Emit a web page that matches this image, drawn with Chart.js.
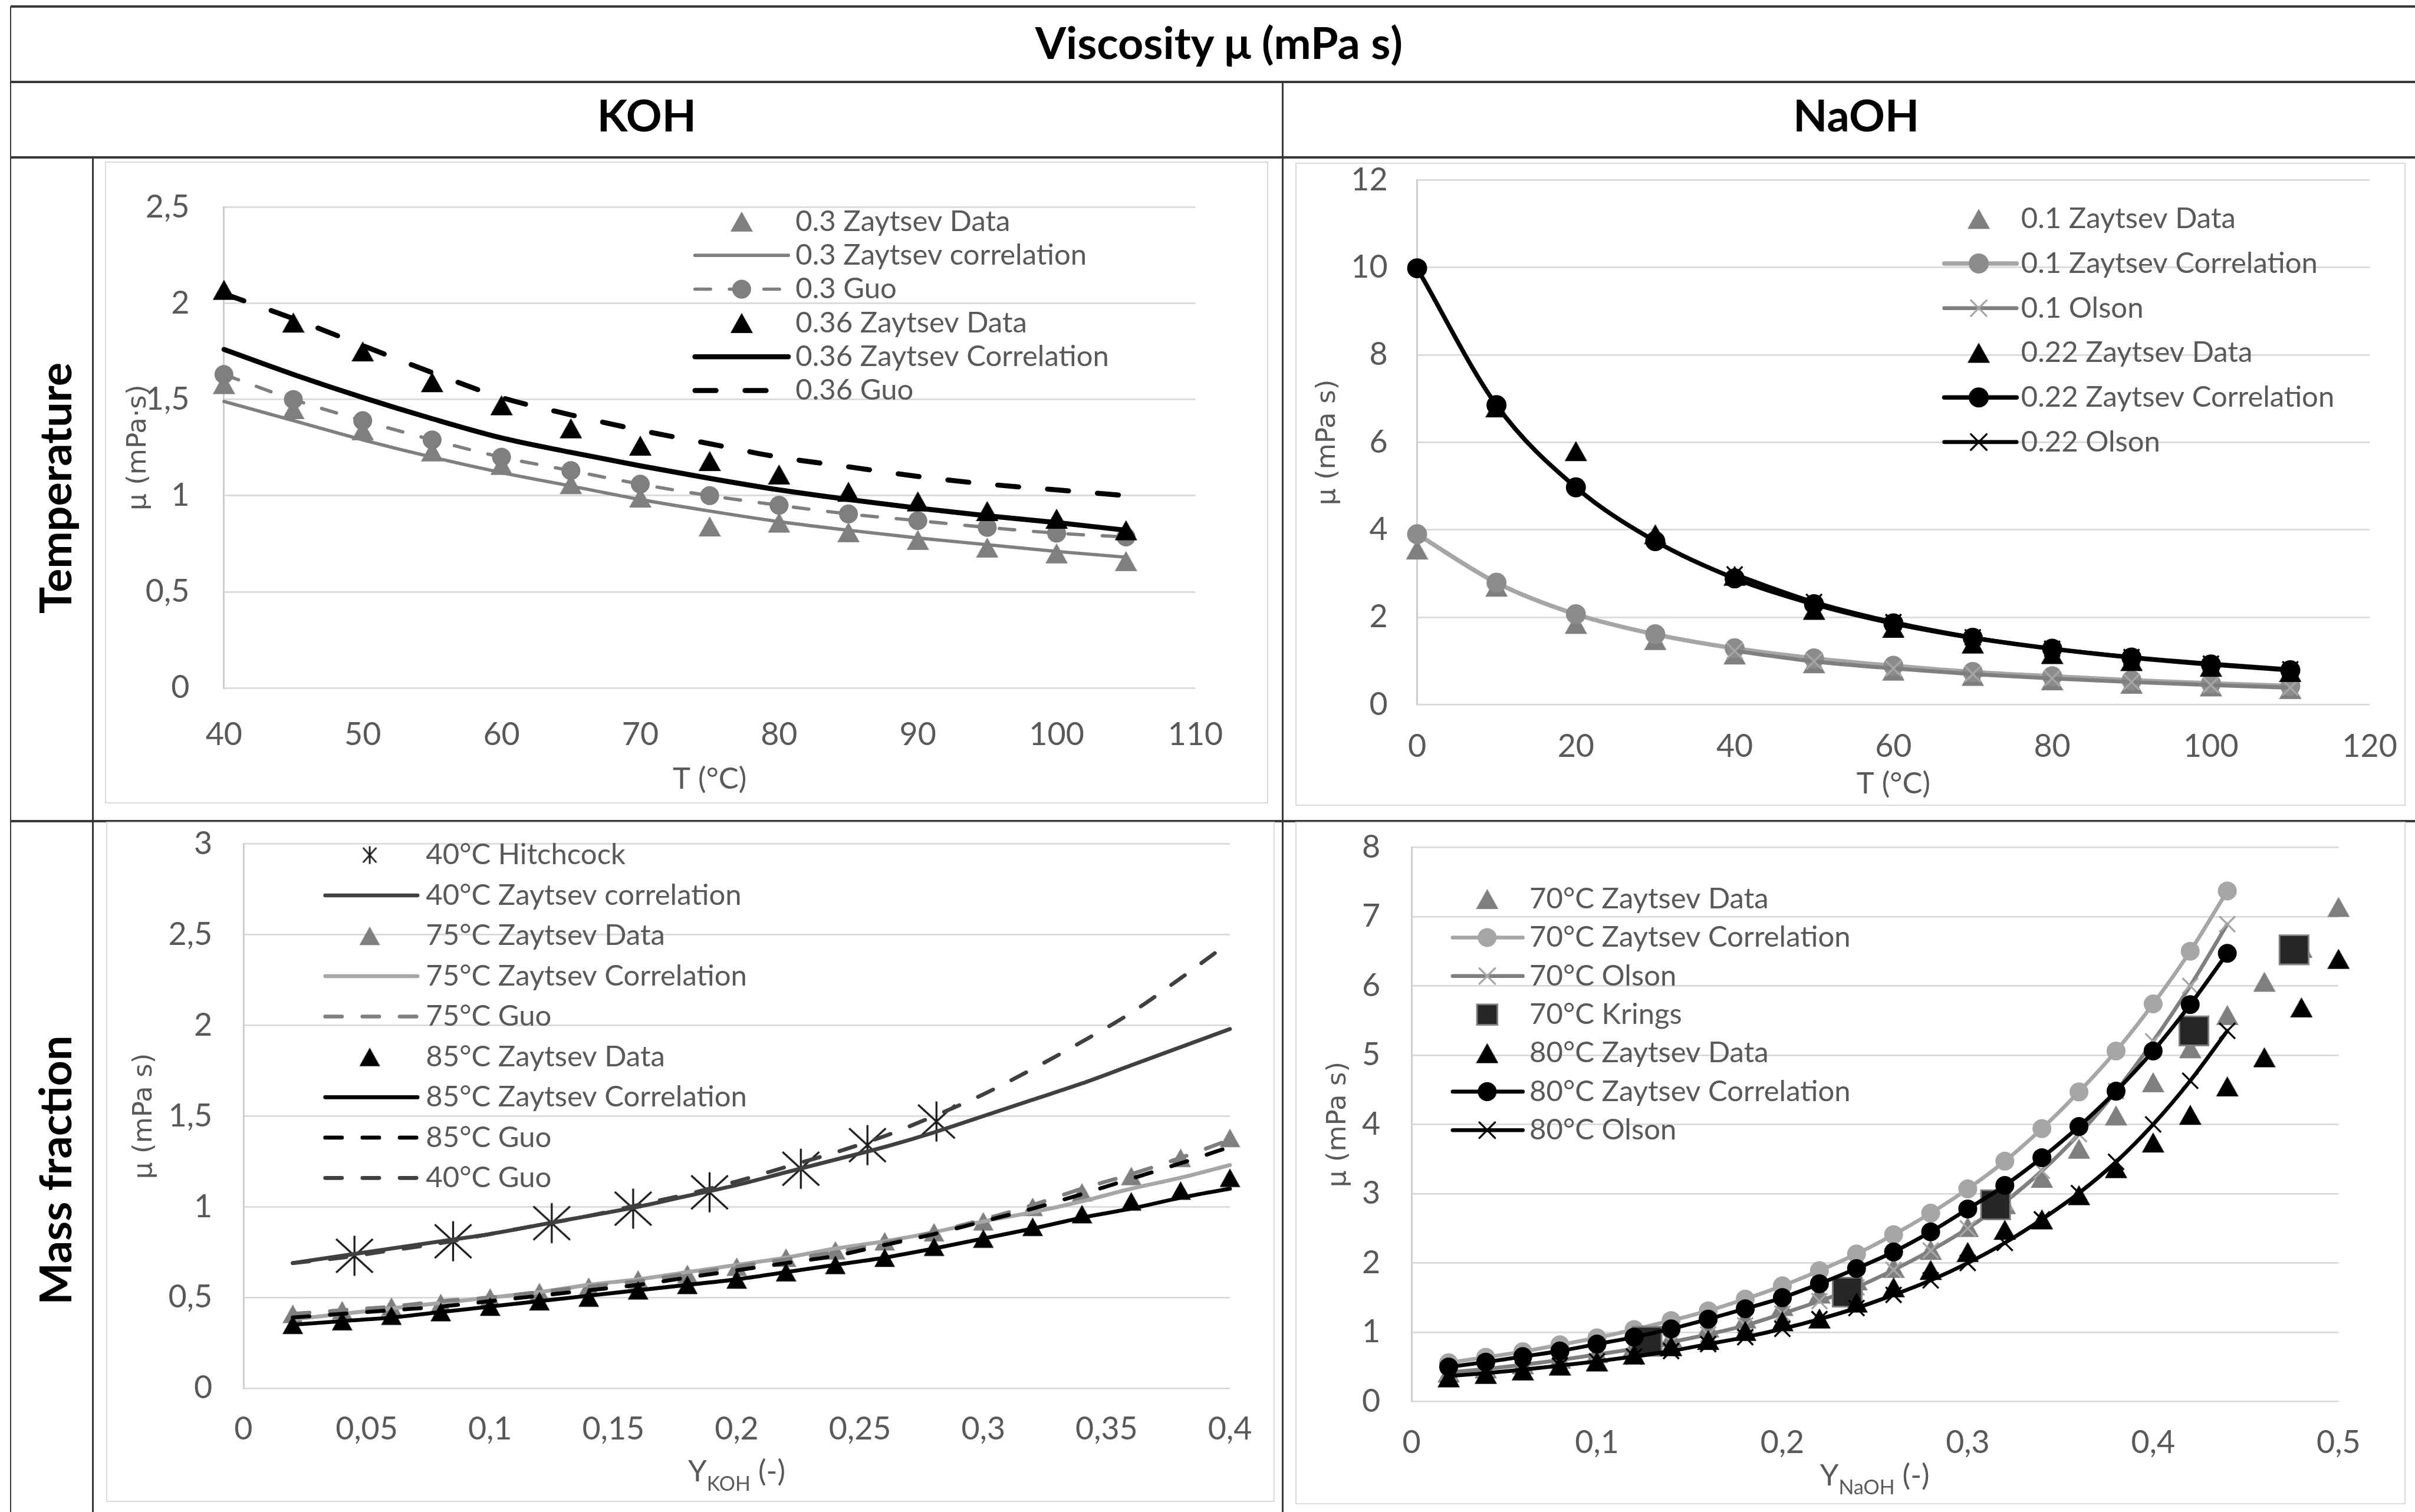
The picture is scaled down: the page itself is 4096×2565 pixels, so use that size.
<!DOCTYPE html>
<html>
<head>
<meta charset="utf-8">
<title>Viscosity μ (mPa s)</title>
<script src="https://cdn.jsdelivr.net/npm/chart.js@4.4.1/dist/chart.umd.min.js"></script>
<style>
  html, body { margin: 0; padding: 0; background: #fff; overflow: hidden; }
  #page { position: relative; width: 4096px; height: 2565px; background: #fff; overflow: hidden; }
  .rule { position: absolute; background: #383838; }
  .head { position: absolute; font-family: Lato, sans-serif; font-weight: 700; color: #000; line-height: 1; white-space: nowrap; }
  .frame { position: absolute; box-sizing: border-box; border-style: solid; border-color: #d9d9d9; }
  canvas { position: absolute; }
</style>
</head>
<body>
<div id="page"></div>
<script>
// ---------- KOH vs temperature (°C) ----------
const tKOH = [40, 45, 50, 55, 60, 65, 70, 75, 80, 85, 90, 95, 100, 105];
const koh30Data = [1.58, 1.45, 1.34, 1.23, 1.16, 1.06, 0.99, 0.84, 0.86, 0.81, 0.77, 0.73, 0.70, 0.66];
const koh30Corr = [1.49, 1.39, 1.29, 1.20, 1.12, 1.05, 0.98, 0.92, 0.865, 0.82, 0.78, 0.745, 0.71, 0.68];
const koh30Guo = [1.63, 1.50, 1.39, 1.29, 1.20, 1.13, 1.06, 1.00, 0.95, 0.905, 0.87, 0.835, 0.805, 0.785];
const koh36Data = [2.07, 1.90, 1.75, 1.59, 1.47, 1.35, 1.26, 1.18, 1.11, 1.02, 0.97, 0.92, 0.88, 0.82];
const koh36Corr = [1.76, 1.63, 1.51, 1.40, 1.30, 1.225, 1.155, 1.09, 1.03, 0.98, 0.935, 0.895, 0.86, 0.82];
const koh36Guo = [2.05, 1.92, 1.78, 1.64, 1.51, 1.42, 1.34, 1.27, 1.20, 1.15, 1.10, 1.06, 1.03, 1.00];

// ---------- NaOH vs temperature (°C) ----------
const tNaOH = [0, 10, 20, 30, 40, 50, 60, 70, 80, 90, 100, 110];
const tNaOH22Data = [10, 20, 30, 40, 50, 60, 70, 80, 90, 100, 110];
const tOlson = [40, 50, 60, 70, 80, 90, 100, 110];
const naoh10Data = [3.55, 2.70, 1.85, 1.48, 1.15, 0.95, 0.78, 0.66, 0.56, 0.48, 0.42, 0.36];
const naoh10Corr = [3.90, 2.79, 2.07, 1.61, 1.29, 1.06, 0.89, 0.75, 0.65, 0.56, 0.49, 0.43];
const naoh10Olson = [1.23, 0.99, 0.83, 0.70, 0.60, 0.52, 0.45, 0.39];
const naoh22Data = [6.80, 5.80, 3.90, 2.95, 2.17, 1.76, 1.40, 1.16, 1.00, 0.87, 0.75];
const naoh22Corr = [9.98, 6.85, 4.97, 3.74, 2.89, 2.30, 1.86, 1.53, 1.28, 1.08, 0.92, 0.79];
const naoh22Olson = [2.98, 2.35, 1.89, 1.54, 1.28, 1.09, 0.94, 0.81];

// ---------- KOH vs mass fraction ----------
const yKOH = [0.02, 0.04, 0.06, 0.08, 0.10, 0.12, 0.14, 0.16, 0.18, 0.20, 0.22, 0.24, 0.26, 0.28, 0.30, 0.32, 0.34, 0.36, 0.38, 0.40];
const hitchY = [0.045, 0.085, 0.125, 0.158, 0.189, 0.226, 0.253, 0.281];
const hitchMu = [0.73, 0.81, 0.91, 0.99, 1.08, 1.21, 1.34, 1.47];
const koh40Corr = [0.69, 0.73, 0.77, 0.81, 0.85, 0.90, 0.95, 1.00, 1.06, 1.12, 1.19, 1.26, 1.33, 1.41, 1.50, 1.59, 1.68, 1.78, 1.88, 1.98];
const koh75Data = [0.41, 0.43, 0.45, 0.47, 0.50, 0.53, 0.56, 0.60, 0.63, 0.67, 0.72, 0.76, 0.81, 0.86, 0.92, 1.00, 1.08, 1.17, 1.27, 1.38];
const koh75Corr = [0.38, 0.41, 0.44, 0.47, 0.50, 0.53, 0.57, 0.60, 0.64, 0.68, 0.72, 0.77, 0.81, 0.86, 0.92, 0.97, 1.03, 1.10, 1.16, 1.23];
const koh75Guo = [0.41, 0.43, 0.45, 0.48, 0.50, 0.53, 0.56, 0.59, 0.63, 0.67, 0.71, 0.75, 0.80, 0.86, 0.93, 1.01, 1.10, 1.18, 1.27, 1.37];
const koh85Data = [0.35, 0.37, 0.40, 0.42, 0.45, 0.48, 0.50, 0.54, 0.57, 0.60, 0.64, 0.68, 0.72, 0.78, 0.825, 0.89, 0.96, 1.03, 1.09, 1.16];
const koh85Corr = [0.35, 0.37, 0.39, 0.42, 0.45, 0.48, 0.51, 0.54, 0.57, 0.60, 0.64, 0.68, 0.72, 0.77, 0.825, 0.88, 0.94, 0.99, 1.05, 1.10];
const koh85Guo = [0.39, 0.41, 0.43, 0.45, 0.48, 0.51, 0.54, 0.57, 0.61, 0.65, 0.69, 0.73, 0.79, 0.85, 0.92, 0.99, 1.07, 1.155, 1.24, 1.33];
const koh40Guo = [0.69, 0.72, 0.76, 0.80, 0.85, 0.90, 0.95, 1.01, 1.07, 1.14, 1.22, 1.30, 1.39, 1.50, 1.62, 1.76, 1.91, 2.07, 2.26, 2.46];

// ---------- NaOH vs mass fraction ----------
const yNaOH = [0.02, 0.04, 0.06, 0.08, 0.10, 0.12, 0.14, 0.16, 0.18, 0.20, 0.22, 0.24, 0.26, 0.28, 0.30, 0.32, 0.34, 0.36, 0.38, 0.40, 0.42, 0.44];
const yNaOHData = [0.02, 0.04, 0.06, 0.08, 0.10, 0.12, 0.14, 0.16, 0.18, 0.20, 0.22, 0.24, 0.26, 0.28, 0.30, 0.32, 0.34, 0.36, 0.38, 0.40, 0.42, 0.44, 0.46, 0.48, 0.50];
const naoh70Data = [0.42, 0.48, 0.54, 0.62, 0.70, 0.80, 0.93, 1.07, 1.20, 1.38, 1.56, 1.75, 1.93, 2.19, 2.52, 2.85, 3.23, 3.65, 4.13, 4.61, 5.10, 5.58, 6.06, 6.55, 7.14];
const naoh70Corr = [0.56, 0.64, 0.72, 0.82, 0.92, 1.04, 1.17, 1.31, 1.48, 1.67, 1.89, 2.13, 2.41, 2.72, 3.07, 3.47, 3.94, 4.47, 5.06, 5.74, 6.50, 7.37];
const naoh70Olson = [0.42, 0.47, 0.53, 0.60, 0.68, 0.76, 0.86, 0.97, 1.10, 1.27, 1.45, 1.65, 1.90, 2.18, 2.50, 2.88, 3.33, 3.86, 4.48, 5.20, 6.00, 6.89];
const kringsY = [0.127, 0.235, 0.315, 0.422, 0.476];
const kringsMu = [0.87, 1.58, 2.84, 5.35, 6.52];
const naoh80Data = [0.35, 0.40, 0.45, 0.52, 0.58, 0.68, 0.80, 0.89, 1.02, 1.16, 1.20, 1.43, 1.65, 1.90, 2.16, 2.48, 2.63, 2.98, 3.37, 3.74, 4.14, 4.55, 4.97, 5.69, 6.39];
const naoh80Corr = [0.50, 0.57, 0.65, 0.73, 0.83, 0.93, 1.05, 1.19, 1.34, 1.50, 1.70, 1.92, 2.16, 2.45, 2.78, 3.12, 3.52, 3.97, 4.48, 5.06, 5.73, 6.47];
const naoh80Olson = [0.37, 0.41, 0.46, 0.52, 0.58, 0.65, 0.73, 0.83, 0.93, 1.05, 1.19, 1.35, 1.54, 1.75, 2.00, 2.29, 2.63, 3.01, 3.46, 4.00, 4.63, 5.35];

// ---------- axis ticks ----------
const xTicksKOHT = [40, 50, 60, 70, 80, 90, 100, 110];
const xLabelsKOHT = ['40', '50', '60', '70', '80', '90', '100', '110'];
const yTicksKOHT = [0, 0.5, 1, 1.5, 2, 2.5];
const yLabelsKOHT = ['0', '0,5', '1', '1,5', '2', '2,5'];
const xTicksNaOHT = [0, 20, 40, 60, 80, 100, 120];
const xLabelsNaOHT = ['0', '20', '40', '60', '80', '100', '120'];
const yTicksNaOHT = [0, 2, 4, 6, 8, 10, 12];
const yLabelsNaOHT = ['0', '2', '4', '6', '8', '10', '12'];
const xTicksKOHY = [0, 0.05, 0.1, 0.15, 0.2, 0.25, 0.3, 0.35, 0.4];
const xLabelsKOHY = ['0', '0,05', '0,1', '0,15', '0,2', '0,25', '0,3', '0,35', '0,4'];
const yTicksKOHY = [0, 0.5, 1, 1.5, 2, 2.5, 3];
const yLabelsKOHY = ['0', '0,5', '1', '1,5', '2', '2,5', '3'];
const xTicksNaOHY = [0, 0.1, 0.2, 0.3, 0.4, 0.5];
const xLabelsNaOHY = ['0', '0,1', '0,2', '0,3', '0,4', '0,5'];
const yTicksNaOHY = [0, 1, 2, 3, 4, 5, 6, 7, 8];
const yLabelsNaOHY = ['0', '1', '2', '3', '4', '5', '6', '7', '8'];

// ---------- page frame ----------
const S = 4096 / 4343;
const px = v => v * S;
const page = document.getElementById('page');
Chart.defaults.font.family = 'Lato';

function rule(x, y, w, h) {
  const d = document.createElement('div');
  d.className = 'rule';
  d.style.cssText = `left:${px(x)}px;top:${px(y)}px;width:${px(w)}px;height:${px(h)}px`;
  page.appendChild(d);
}
[12, 147, 283, 1477].forEach(y => rule(19, y - 2, 4343 - 19, 4));
rule(17.5, 12, 3, 2708);
rule(165.5, 283, 3, 2437);
rule(2305.5, 147, 3, 2573);

const heads = [
  ['Viscosity μ (mPa s)', 2192, 76, 0],
  ['KOH', 1163, 207, 0],
  ['NaOH', 3338, 207, 0],
  ['Temperature', 99, 878, -90],
  ['Mass fraction', 99, 2105, -90]
];
heads.forEach(([text, x, y, rot]) => {
  const d = document.createElement('div');
  d.className = 'head';
  d.textContent = text;
  d.style.left = px(x) + 'px';
  d.style.top = px(y) + 'px';
  d.style.fontSize = px(80) + 'px';
  d.style.transform = `translate(-50%, -50%) rotate(${rot}deg)`;
  page.appendChild(d);
});

// ---------- marker shapes ----------
function triangle(size, color) {
  const c = document.createElement('canvas');
  const s = Math.round(px(size));
  c.width = s; c.height = s;
  const g = c.getContext('2d');
  g.fillStyle = color;
  g.beginPath();
  g.moveTo(s / 2, s * 0.05);
  g.lineTo(s, s * 0.95);
  g.lineTo(0, s * 0.95);
  g.closePath();
  g.fill();
  return c;
}
function asterisk(w, h, lw, color) {
  w = px(w); h = px(h); lw = px(lw);
  const c = document.createElement('canvas');
  c.width = Math.ceil(w + lw * 2); c.height = Math.ceil(h + lw * 2);
  const g = c.getContext('2d');
  const cx = c.width / 2, cy = c.height / 2;
  g.strokeStyle = color; g.lineWidth = lw;
  g.beginPath();
  g.moveTo(cx, cy - h / 2); g.lineTo(cx, cy + h / 2);
  g.moveTo(cx - w / 2, cy - h * 0.42); g.lineTo(cx + w / 2, cy + h * 0.42);
  g.moveTo(cx - w / 2, cy + h * 0.42); g.lineTo(cx + w / 2, cy - h * 0.42);
  g.stroke();
  return c;
}

const BLACK = '#000000', DARK = '#404040', MID = '#7f7f7f', LIGHT = '#a6a6a6';
const triGray = triangle(40, MID), triBlack = triangle(40, BLACK);
const triGraySm = triangle(37, MID), triBlackSm = triangle(37, BLACK);
const starBig = asterisk(66, 72, 3.5, '#1a1a1a'), starSmall = asterisk(24, 32, 3, '#1a1a1a');

function series(label, xs, ys, ...opts) {
  return Object.assign({
    label,
    data: xs.map((x, i) => ({ x, y: ys[i] })),
    showLine: false, pointRadius: 0, borderWidth: 0, clip: false,
    cubicInterpolationMode: 'monotone', borderCapStyle: 'round', borderJoinStyle: 'round'
  }, ...opts);
}
const line = (color, w, dash) => ({ showLine: true, borderColor: color, borderWidth: px(w), borderDash: dash ? dash.map(px) : [] });
const img = (im, legendIm) => ({ pointStyle: im, pointRadius: im.width / 2, legendStyle: legendIm || im });
const dot = (color, r) => ({ pointStyle: 'circle', pointRadius: px(r), pointBackgroundColor: color, pointBorderColor: color, pointBorderWidth: px(2) });
const cross = (color, r) => ({ pointStyle: 'crossRot', pointRadius: px(r), pointBackgroundColor: color, pointBorderColor: color, pointBorderWidth: px(3.5) });

function drawMark(ctx, ds, x, y) {
  const st = ds.legendStyle || ds.pointStyle;
  if (!ds.pointRadius) return;
  if (st instanceof HTMLCanvasElement) {
    ctx.drawImage(st, x - st.width / 2, y - st.height / 2);
    return;
  }
  const r = ds.legendRadius || ds.pointRadius;
  ctx.fillStyle = ds.pointBackgroundColor;
  ctx.strokeStyle = ds.pointBorderColor;
  ctx.lineWidth = ds.pointBorderWidth;
  ctx.beginPath();
  const s = r * Math.SQRT1_2;
  if (st === 'circle') ctx.arc(x, y, r, 0, Math.PI * 2);
  else if (st === 'rect') ctx.rect(x - s, y - s, 2 * s, 2 * s);
  else if (st === 'crossRot') {
    ctx.moveTo(x - s, y - s); ctx.lineTo(x + s, y + s);
    ctx.moveTo(x - s, y + s); ctx.lineTo(x + s, y - s);
  }
  if (st !== 'crossRot') ctx.fill();
  ctx.stroke();
}

// key drawn inside the plot: line sample, marker, label
function keyPlugin(g, lx, ly) {
  return {
    id: 'keyList',
    afterDatasetsDraw(chart) {
      const ctx = chart.ctx;
      ctx.save();
      chart.data.datasets.forEach((ds, i) => {
        const y = ly(g.y0 + i * g.dy);
        if (ds.showLine) {
          ctx.strokeStyle = ds.borderColor;
          ctx.lineWidth = ds.borderWidth;
          ctx.lineCap = 'round';
          ctx.setLineDash(ds.borderDash || []);
          ctx.beginPath();
          ctx.moveTo(lx(g.x0), y);
          ctx.lineTo(lx(g.x1), y);
          ctx.stroke();
          ctx.setLineDash([]);
        }
        drawMark(ctx, ds, lx(g.xm), y);
        ctx.fillStyle = '#595959';
        ctx.font = `${px(52)}px Lato`;
        ctx.textAlign = 'left';
        ctx.textBaseline = 'middle';
        ctx.fillText(ds.label, lx(g.xt), y);
      });
      ctx.restore();
    }
  };
}

// x axis title with a subscript
function subTitlePlugin(t, lx, ly) {
  return {
    id: 'subTitle',
    afterDraw(chart) {
      const ctx = chart.ctx;
      ctx.save();
      ctx.fillStyle = '#595959';
      ctx.textBaseline = 'alphabetic';
      ctx.textAlign = 'left';
      const fonts = t.parts.map(p => `${px(p[1] ? 36 : 54)}px Lato`);
      const widths = t.parts.map((p, i) => { ctx.font = fonts[i]; return ctx.measureText(p[0]).width; });
      let x = lx(t.cx) - widths.reduce((a, b) => a + b, 0) / 2;
      t.parts.forEach((p, i) => {
        ctx.font = fonts[i];
        ctx.fillText(p[0], x, ly(t.y) + (p[1] ? px(16) : 0));
        x += widths[i];
      });
      ctx.restore();
    }
  };
}

function buildChart(c) {
  const [bx0, by0, bx1, by1] = c.box;
  const W = Math.round(px(bx1 - bx0)), H = Math.round(px(by1 - by0));
  const frame = document.createElement('div');
  frame.className = 'frame';
  frame.style.cssText = `left:${px(bx0)}px;top:${px(by0)}px;width:${W}px;height:${H}px;border-width:${px(3)}px`;
  page.appendChild(frame);
  const cv = document.createElement('canvas');
  cv.width = W; cv.height = H;
  cv.style.cssText = `left:${px(bx0)}px;top:${px(by0)}px;width:${W}px;height:${H}px`;
  page.appendChild(cv);

  const lx = v => px(v - bx0), ly = v => px(v - by0);
  const L = lx(c.plot[0]), T = ly(c.plot[1]), R = lx(c.plot[2]), B = ly(c.plot[3]);
  const pad = 2;
  const tickSize = px(57), titleSize = px(54), ySize = px(48);
  c.datasets.forEach((d, i) => { d.order = -i; });

  const plugins = [keyPlugin(c.key, lx, ly)];
  if (c.xSub) plugins.push(subTitlePlugin(c.xSub, lx, ly));

  return new Chart(cv, {
    type: 'scatter',
    data: { datasets: c.datasets },
    plugins,
    options: {
      responsive: false, animation: false, events: [], devicePixelRatio: 1,
      layout: { padding: { left: pad, top: T, right: W - R, bottom: pad } },
      plugins: { legend: { display: false }, tooltip: { enabled: false } },
      scales: {
        x: {
          type: 'linear',
          min: c.x.ticks[0], max: c.x.ticks[c.x.ticks.length - 1],
          // fixed band under the plot; label overhang must not move the plot edges
          afterFit: s => { s.height = H - pad - B; s.paddingLeft = 0; s.paddingRight = 0; },
          afterBuildTicks: s => { s.ticks = c.x.ticks.map(v => ({ value: v })); },
          grid: { display: false, drawTicks: false },
          border: { display: false },
          ticks: {
            callback: (v, i) => c.x.labels[i], color: '#595959', autoSkip: false, maxRotation: 0,
            font: { size: tickSize, lineHeight: 1 }, padding: px(c.x.offset) - tickSize / 2
          },
          title: c.xTitle ? {
            display: true, text: c.xTitle.text, color: '#595959',
            font: { size: titleSize, lineHeight: 1 },
            padding: { top: 0, bottom: (H - pad) - ly(c.xTitle.y) - titleSize / 2 }
          } : { display: false }
        },
        y: {
          type: 'linear',
          min: c.y.ticks[0], max: c.y.ticks[c.y.ticks.length - 1],
          afterFit: s => { s.width = L - pad; s.paddingTop = 0; s.paddingBottom = 0; },
          afterBuildTicks: s => { s.ticks = c.y.ticks.map(v => ({ value: v })); },
          grid: { color: '#d9d9d9', lineWidth: px(3), drawTicks: false },
          border: { display: true, color: '#cccccc', width: px(3) },
          ticks: {
            callback: (v, i) => c.y.labels[i], color: '#595959',
            font: { size: tickSize, lineHeight: 1 }, padding: px(c.y.gap)
          },
          title: {
            display: true, text: c.yTitle.text, color: '#595959',
            font: { family: 'DejaVu Sans', size: ySize, lineHeight: 1 },
            padding: { top: lx(c.yTitle.x) - pad - ySize / 2, bottom: 0 }
          }
        }
      }
    }
  });
}

// KOH, temperature
buildChart({
  box: [189, 291, 2281, 1446], plot: [403, 373, 2150, 1238],
  x: { ticks: xTicksKOHT, labels: xLabelsKOHT, offset: 84 },
  y: { ticks: yTicksKOHT, labels: yLabelsKOHT, gap: 62 },
  yTitle: { text: 'μ (mPa·s)', x: 250 },
  xTitle: { text: 'T (°C)', y: 1402 },
  key: { x0: 1250, x1: 1418, xm: 1334, xt: 1431, y0: 399, dy: 60.8 },
  datasets: [
    series('0.3 Zaytsev Data', tKOH, koh30Data, img(triGray)),
    series('0.3 Zaytsev correlation', tKOH, koh30Corr, line(MID, 6)),
    series('0.3 Guo', tKOH, koh30Guo, line(MID, 6, [28, 34]), dot(MID, 16)),
    series('0.36 Zaytsev Data', tKOH, koh36Data, img(triBlack)),
    series('0.36 Zaytsev Correlation', tKOH, koh36Corr, line(BLACK, 9)),
    series('0.36 Guo', tKOH, koh36Guo, line(BLACK, 9, [38, 52]))
  ]
});

// NaOH, temperature
buildChart({
  box: [2329, 293, 4326, 1450], plot: [2548, 324, 4261, 1268],
  x: { ticks: xTicksNaOHT, labels: xLabelsNaOHT, offset: 75 },
  y: { ticks: yTicksNaOHT, labels: yLabelsNaOHT, gap: 53 },
  yTitle: { text: 'μ (mPa s)', x: 2388 },
  xTitle: { text: 'T (°C)', y: 1410 },
  key: { x0: 3496, x1: 3626, xm: 3558, xt: 3634, y0: 394, dy: 80.3 },
  datasets: [
    series('0.1 Zaytsev Data', tNaOH, naoh10Data, img(triGray)),
    series('0.1 Zaytsev Correlation', tNaOH, naoh10Corr, line(LIGHT, 8), dot('#8c8c8c', 17)),
    series('0.1 Olson', tOlson, naoh10Olson, line(MID, 7), cross(LIGHT, 20)),
    series('0.22 Zaytsev Data', tNaOH22Data, naoh22Data, img(triBlack)),
    series('0.22 Zaytsev Correlation', tNaOH, naoh22Corr, line(BLACK, 8), dot(BLACK, 17)),
    series('0.22 Olson', tOlson, naoh22Olson, line(BLACK, 7), cross(BLACK, 20))
  ]
});

// KOH, mass fraction
buildChart({
  box: [191, 1478, 2292, 2702], plot: [438, 1518, 2212, 2497],
  x: { ticks: xTicksKOHY, labels: xLabelsKOHY, offset: 74 },
  y: { ticks: yTicksKOHY, labels: yLabelsKOHY, gap: 56 },
  yTitle: { text: 'μ (mPa s)', x: 260 },
  xSub: { parts: [['Y', false], ['KOH', true], [' (-)', false]], cx: 1325, y: 2665 },
  key: { x0: 585, x1: 751, xm: 665, xt: 766, y0: 1538, dy: 72.6 },
  datasets: [
    series('40°C Hitchcock', hitchY, hitchMu, img(starBig, starSmall)),
    series('40°C Zaytsev correlation', yKOH, koh40Corr, line(DARK, 7)),
    series('75°C Zaytsev Data', yKOH, koh75Data, img(triGraySm)),
    series('75°C Zaytsev Correlation', yKOH, koh75Corr, line(LIGHT, 7)),
    series('75°C Guo', yKOH, koh75Guo, line(MID, 7, [30, 37])),
    series('85°C Zaytsev Data', yKOH, koh85Data, img(triBlackSm)),
    series('85°C Zaytsev Correlation', yKOH, koh85Corr, line(BLACK, 7)),
    series('85°C Guo', yKOH, koh85Guo, line(BLACK, 7, [30, 37])),
    series('40°C Guo', yKOH, koh40Guo, line(DARK, 7, [30, 37]))
  ]
});

// NaOH, mass fraction
buildChart({
  box: [2329, 1478, 4326, 2706], plot: [2538, 1524, 4205, 2521],
  x: { ticks: xTicksNaOHY, labels: xLabelsNaOHY, offset: 74 },
  y: { ticks: yTicksNaOHY, labels: yLabelsNaOHY, gap: 56 },
  yTitle: { text: 'μ (mPa s)', x: 2407 },
  xSub: { parts: [['Y', false], ['NaOH', true], [' (-)', false]], cx: 3371, y: 2672 },
  key: { x0: 2612, x1: 2738, xm: 2674, xt: 2750, y0: 1617, dy: 69.3 },
  datasets: [
    series('70°C Zaytsev Data', yNaOHData, naoh70Data, img(triGray)),
    series('70°C Zaytsev Correlation', yNaOH, naoh70Corr, line(LIGHT, 7), dot(LIGHT, 16)),
    series('70°C Olson', yNaOH, naoh70Olson, line(MID, 7), cross(LIGHT, 20)),
    series('70°C Krings', kringsY, kringsMu, {
      pointStyle: 'rect', pointRadius: px(37), legendRadius: px(26),
      pointBackgroundColor: '#262626', pointBorderColor: '#808080', pointBorderWidth: px(3)
    }),
    series('80°C Zaytsev Data', yNaOHData, naoh80Data, img(triBlack)),
    series('80°C Zaytsev Correlation', yNaOH, naoh80Corr, line(BLACK, 7), dot(BLACK, 16)),
    series('80°C Olson', yNaOH, naoh80Olson, line(BLACK, 7), cross(BLACK, 20))
  ]
});
</script>
</body>
</html>
